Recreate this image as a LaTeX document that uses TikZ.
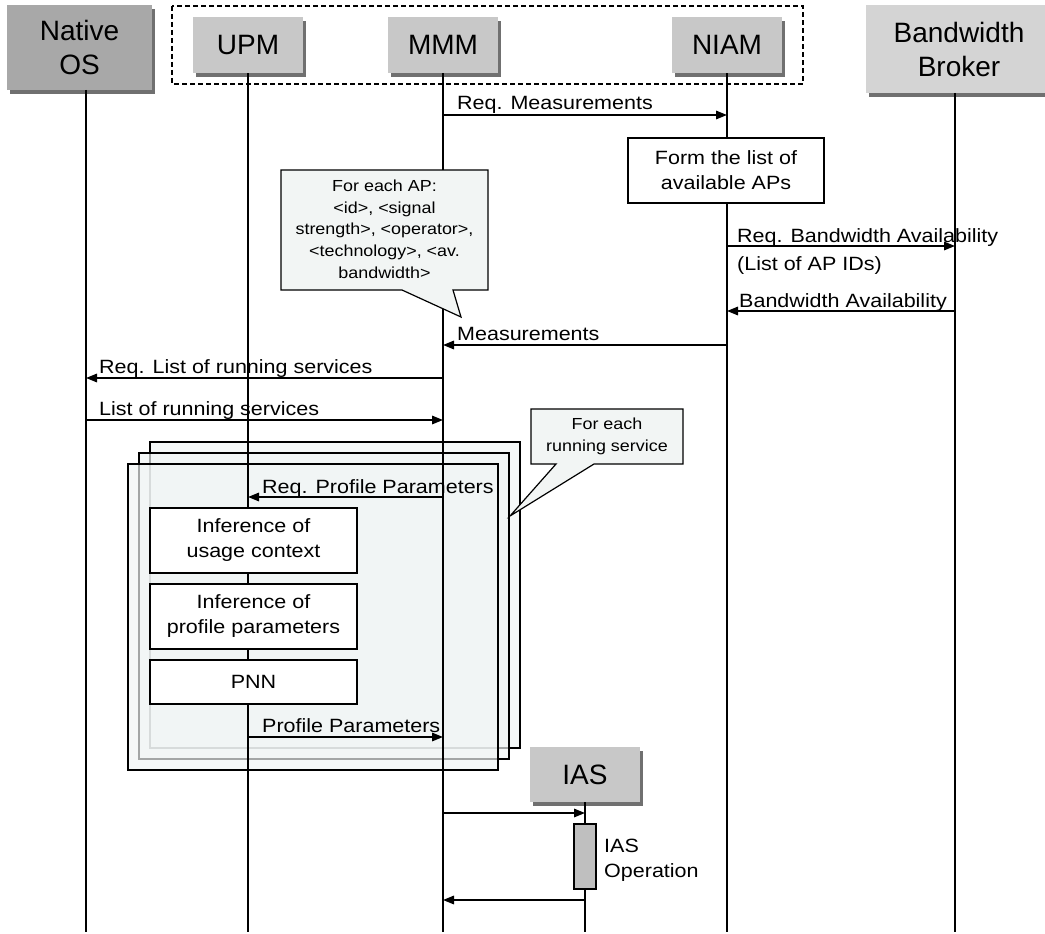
\documentclass[tikz,border=0pt]{standalone}
\usepackage{fontspec}
\setmainfont{Liberation Sans}
\newfontfamily\lblfont{Liberation Sans}[FakeStretch=1.12]
\usetikzlibrary{arrows.meta,shadows}

\definecolor{hdrgray}{RGB}{200,200,200}
\definecolor{osgray}{RGB}{168,168,168}
\definecolor{brokergray}{RGB}{212,212,212}
\definecolor{shadowgray}{RGB}{112,112,112}
\definecolor{notefill}{RGB}{242,245,244}
\definecolor{framefill}{RGB}{241,245,245}
\definecolor{barfill}{RGB}{191,191,191}

\tikzset{
  hdr/.style={fill=hdrgray, inner sep=0pt, align=center,
    font=\fontsize{28}{34}\selectfont,
    drop shadow={shadow xshift=3pt, shadow yshift=-4pt, fill=shadowgray, opacity=1}},
  life/.style={line width=1.2pt},
  msg/.style={line width=1.6pt, -{Triangle[length=11pt,width=8.5pt]}},
  lbl/.style={inner sep=0pt, anchor=base west, align=left,
    font=\lblfont\fontsize{19.2}{28}\selectfont},
  procbox/.style={draw, line width=1.2pt, fill=white, inner sep=0pt, align=center,
    font=\lblfont\fontsize{19.2}{25}\selectfont},
  frame/.style={draw, line width=1.3pt, fill=framefill, fill opacity=0.68, inner sep=0pt},
  notetext/.style={inner sep=0pt, align=center,
    font=\lblfont\fontsize{16}{21.7}\selectfont},
  noteshape/.style={draw, line width=1.2pt, fill=notefill, line join=miter},
}

\begin{document}
\begin{tikzpicture}[x=1pt,y=-1pt]
\useasboundingbox (0,0) rectangle (1045,934);

% grouping of the framework modules
\draw[line width=1.2pt, dash pattern=on 5pt off 3pt] (172,6) rectangle (803,84);

% participants
\node[hdr, fill=osgray, minimum width=145pt, minimum height=85pt] (os) at (79.5,47.5) {Native\\OS};
\node[hdr, minimum width=110pt, minimum height=56pt] (upm) at (248,45) {UPM};
\node[hdr, minimum width=110pt, minimum height=56pt] (mmm) at (443,45) {MMM};
\node[hdr, minimum width=110pt, minimum height=56pt] (niam) at (727,45) {NIAM};
\node[hdr, fill=brokergray, minimum width=186pt, minimum height=88pt] (bb) at (959,49) {Bandwidth\\Broker};

% repeated blocks, one per running service
\node[frame, minimum width=370pt, minimum height=306pt] (fA) at (335,595) {};
\node[frame, minimum width=370pt, minimum height=306pt] (fB) at (324,606) {};
\node[frame, minimum width=370pt, minimum height=306pt] (fC) at (313,617) {};

% IAS participant
\node[hdr, minimum width=110pt, minimum height=55pt] (ias) at (585,774.5) {IAS};

% lifeline ends
\coordinate (osTop) at (86,90);
\coordinate (osEnd) at (86,932);
\coordinate (upmEnd) at (248,932);
\coordinate (mmmEnd) at (443,932);
\coordinate (niamEnd) at (727,932);
\coordinate (bbTop) at (955,93);
\coordinate (bbEnd) at (955,932);
\coordinate (iasEnd) at (585,932);

\draw[life] (osTop) -- (osEnd);
\draw[life] (upm.south) -- (upmEnd);
\draw[life] (mmm.south) -- (mmmEnd);
\draw[life] (niam.south) -- (niamEnd);
\draw[life] (bbTop) -- (bbEnd);
\draw[life] (ias.south) -- (iasEnd);

% notes
\draw[noteshape] (281,170) -- (488,170) -- (488,290) -- (453,290) -- (461,317)
  -- (402,290) -- (281,290) -- cycle;
\node[notetext] (apnote) at (384.5,229) {For each AP:\\<id>, <signal\\strength>, <operator>,\\<technology>, <av.\\bandwidth>};

\draw[noteshape] (531,409) -- (683,409) -- (683,464) -- (594,464) -- (510,516)
  -- (556,464) -- (531,464) -- cycle;
\node[notetext] (svcnote) at (607,436.5) {For each\\running service};

% processing steps
\node[procbox, minimum width=196pt, minimum height=65pt] (form) at (726,170.5) {Form the list of\\available APs};
\node[procbox, minimum width=207pt, minimum height=65pt] (inf1) at (253.5,540.5) {Inference of\\usage context};
\node[procbox, minimum width=207pt, minimum height=65pt] (inf2) at (253.5,616.5) {Inference of\\profile parameters};
\node[procbox, minimum width=207pt, minimum height=44pt] (pnn) at (253.5,682) {PNN};
\node[draw, line width=1.2pt, fill=barfill, minimum width=22pt, minimum height=65pt, inner sep=0pt] (bar) at (585,856.5) {};
% base anchor of a two-line label sits on its last line
\node[lbl, font=\lblfont\fontsize{19.2}{25}\selectfont] (barlbl) at (604,877) {IAS\\Operation};

% message end points on the lifelines
\coordinate (m1s) at (443,115);  \coordinate (m1e) at (727,115);
\coordinate (m2s) at (727,246);  \coordinate (m2e) at (955,246);
\coordinate (m3s) at (955,311);  \coordinate (m3e) at (727,311);
\coordinate (m4s) at (727,345);  \coordinate (m4e) at (443,345);
\coordinate (m5s) at (443,378);  \coordinate (m5e) at (86,378);
\coordinate (m6s) at (86,420);   \coordinate (m6e) at (443,420);
\coordinate (m7s) at (443,497);  \coordinate (m7e) at (248,497);
\coordinate (m8s) at (248,737);  \coordinate (m8e) at (443,737);
\coordinate (m9s) at (443,813);  \coordinate (m9e) at (585,813);
\coordinate (m10s) at (585,900); \coordinate (m10e) at (443,900);

% messages
\draw[msg] (m1s) -- (m1e);
\node[lbl] (l1) at (457,110) {Req. Measurements};
\draw[msg] (m2s) -- (m2e);
\node[lbl] (l2) at (737,270) {Req. Bandwidth Availability\\(List of AP IDs)};
\draw[msg] (m3s) -- (m3e);
\node[lbl] (l3) at (739,307) {Bandwidth Availability};
\draw[msg] (m4s) -- (m4e);
\node[lbl] (l4) at (457,340) {Measurements};
\draw[msg] (m5s) -- (m5e);
\node[lbl] (l5) at (99,373) {Req. List of running services};
\draw[msg] (m6s) -- (m6e);
\node[lbl] (l6) at (99,415) {List of running services};
\draw[msg] (m7s) -- (m7e);
\node[lbl] (l7) at (262,493) {Req. Profile Parameters};
\draw[msg] (m8s) -- (m8e);
\node[lbl] (l8) at (262,732) {Profile Parameters};
\draw[msg] (m9s) -- (m9e);
\draw[msg] (m10s) -- (m10e);
\end{tikzpicture}
\end{document}
